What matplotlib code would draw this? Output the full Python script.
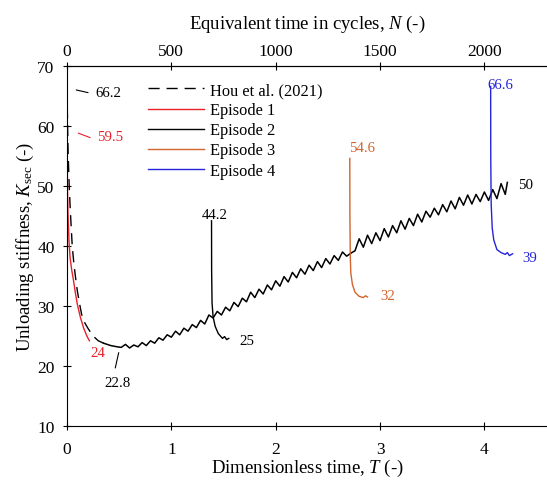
import matplotlib
matplotlib.use('Agg')
import matplotlib.pyplot as plt

plt.rcParams['font.family'] = ['Liberation Serif', 'DejaVu Serif']
plt.rcParams['mathtext.fontset'] = 'custom'
plt.rcParams['mathtext.rm'] = 'Liberation Serif'
plt.rcParams['mathtext.it'] = 'Liberation Serif:italic'

# Hou et al. (2021) measured curve
hou_T = [0, 0.005, 0.01, 0.02, 0.03, 0.04, 0.05, 0.065, 0.08, 0.1, 0.12, 0.14, 0.17, 0.2,
         0.25, 0.3, 0.35, 0.42, 0.48,
         0.52, 0.56, 0.60, 0.64, 0.68, 0.72, 0.76, 0.80, 0.84, 0.88, 0.92, 0.96, 1.00,
         1.04, 1.08, 1.12, 1.16, 1.20, 1.24, 1.28, 1.32, 1.36, 1.40, 1.44, 1.48, 1.52,
         1.56, 1.60, 1.64, 1.68, 1.72, 1.76, 1.80, 1.84, 1.88, 1.92, 1.96, 2.00, 2.04,
         2.08, 2.12, 2.16, 2.20, 2.24, 2.28, 2.32, 2.36, 2.40, 2.44, 2.48, 2.52, 2.56,
         2.60, 2.64, 2.68, 2.72, 2.76, 2.80, 2.84, 2.88, 2.92, 2.96, 3.00, 3.04, 3.08,
         3.12, 3.16, 3.20, 3.24, 3.28, 3.32, 3.36, 3.40, 3.44, 3.48, 3.52, 3.56, 3.60,
         3.64, 3.68, 3.72, 3.76, 3.80, 3.84, 3.88, 3.92, 3.96, 4.00, 4.04, 4.08, 4.12,
         4.16, 4.20, 4.22]
hou_K = [66.2, 60.5, 56.0, 50.5, 46.5, 43.2, 40.0, 37.2, 35.0, 32.4, 30.4, 28.6, 27.2, 26.3,
         25.0, 24.2, 23.8, 23.4, 23.2,
         23.1, 23.6, 23.0, 23.5, 23.2, 23.9, 23.4, 24.2, 23.8, 24.7, 24.3, 25.2, 24.8,
         25.8, 25.2, 26.3, 25.8, 26.9, 26.4, 27.6, 27.0, 28.5, 28.0, 29.1, 28.5, 29.8,
         29.2, 30.6, 29.9, 31.3, 30.7, 32.3, 31.4, 32.8, 32.0, 33.5, 32.7, 34.2, 33.3,
         34.9, 34.0, 35.6, 34.7, 36.2, 35.3, 36.8, 35.9, 37.4, 36.4, 37.9, 37.0, 38.4,
         37.6, 39.0, 38.3, 38.8, 39.2, 41.2, 39.8, 41.8, 40.4, 42.2, 40.9, 42.9, 41.5,
         43.4, 42.2, 44.2, 42.8, 44.6, 43.4, 45.3, 44.0, 45.8, 44.8, 46.3, 45.2, 46.9,
         45.7, 47.5, 46.2, 48.1, 46.8, 48.5, 47.0, 48.6, 47.4, 49.0, 47.6, 49.4, 47.9,
         50.4, 48.6, 50.6]
n_smooth = 17  # smooth decay part at the start, drawn with visible dashes

ep1_T = [0, 0.002, 0.005, 0.01, 0.02, 0.03, 0.045, 0.06, 0.08, 0.1, 0.13, 0.16, 0.19, 0.215]
ep1_K = [59.5, 54.0, 49.0, 45.0, 40.5, 38.0, 36.0, 34.5, 32.2, 30.2, 28.0, 26.3, 25.0, 24.2]

ep2_T = [1.385, 1.386, 1.39, 1.40, 1.42, 1.45, 1.47, 1.49, 1.51, 1.53, 1.55]
ep2_K = [44.2, 36.0, 30.5, 28.2, 26.6, 25.4, 25.0, 24.6, 24.9, 24.4, 24.6]

ep3_T = [2.71, 2.711, 2.715, 2.72, 2.735, 2.76, 2.80, 2.84, 2.86, 2.88]
ep3_K = [54.6, 45.0, 38.0, 35.5, 33.6, 32.3, 31.6, 31.4, 31.7, 31.5]

ep4_T = [4.06, 4.061, 4.065, 4.075, 4.09, 4.12, 4.16, 4.20, 4.22, 4.24, 4.27]
ep4_K = [66.6, 55.0, 47.0, 43.0, 41.0, 39.4, 38.9, 38.6, 38.9, 38.4, 38.7]

red = '#e8202a'
orange = '#d2642d'
blue = '#2424dc'

fig = plt.figure(figsize=(5.47, 4.81), dpi=100)
ax = fig.add_axes([0.1225, 0.1123, 0.8775, 0.7484])

# dense noisy measurement: dashes only visible on the smooth start
ax.plot(hou_T[:n_smooth], hou_K[:n_smooth], color='black', lw=1.0, ls=(0, (8, 5)),
        label='Hou et al. (2021)')
ax.plot(hou_T[n_smooth - 1:], hou_K[n_smooth - 1:], color='black', lw=1.1)
ax.plot(ep1_T, ep1_K, color=red, lw=1.0, label='Episode 1')
ax.plot(ep2_T, ep2_K, color='black', lw=1.0, label='Episode 2')
ax.plot(ep3_T, ep3_K, color=orange, lw=1.0, label='Episode 3')
ax.plot(ep4_T, ep4_K, color=blue, lw=1.0, label='Episode 4')

ax.set_xlim(0, 4.6)
ax.set_ylim(10, 70)
ax.set_xticks([0, 1, 2, 3, 4])
ax.set_yticks([10, 20, 30, 40, 50, 60, 70])
ax.spines['right'].set_visible(False)
ax.tick_params(direction='inout', length=6, width=0.8, labelsize=12.5)
ax.tick_params(axis='x', pad=8)
ax.tick_params(axis='y', pad=6)
ax.set_xlabel('Dimensionless time, $T$ (-)', fontsize=13.5, labelpad=0)
ax.set_ylabel('Unloading stiffness, $K_{\\rm sec}$ (-)', fontsize=13.5, labelpad=1)

top = ax.secondary_xaxis('top', functions=(lambda t: t * 500, lambda n: n / 500))
top.set_xticks([0, 500, 1000, 1500, 2000])
top.tick_params(direction='inout', length=6, width=0.8, labelsize=12.5, pad=2)
top.set_xlabel('Equivalent time in cycles, $N$ (-)', fontsize=13.5, labelpad=11)

ax.legend(loc='upper left', bbox_to_anchor=(0.169, 0.955), frameon=False, fontsize=11.8,
          handlelength=3.4, handletextpad=0.4, labelspacing=0.25, borderpad=0, borderaxespad=0)

fs = 10.7
ax.plot([0.09, 0.20], [66.0, 65.57], color='black', lw=0.8)
ax.text(0.40, 65.6, '66.2', fontsize=fs, ha='center', va='center')
ax.plot([0.11, 0.22], [58.8, 58.07], color=red, lw=0.8)
ax.text(0.415, 58.2, '59.5', fontsize=fs, ha='center', va='center', color=red)
ax.text(0.293, 22.2, '24', fontsize=fs, ha='center', va='center', color=red)
ax.plot([0.495, 0.463], [22.2, 19.7], color='black', lw=0.8)
ax.text(0.48, 17.3, '22.8', fontsize=fs, ha='center', va='center')
ax.text(1.42, 45.3, '44.2', fontsize=fs, ha='center', va='center')
ax.text(1.726, 24.2, '25', fontsize=fs, ha='center', va='center')
ax.text(2.83, 56.4, '54.6', fontsize=fs, ha='center', va='center', color=orange)
ax.text(3.07, 31.7, '32', fontsize=fs, ha='center', va='center', color=orange)
ax.text(4.155, 66.95, '66.6', fontsize=fs, ha='center', va='center', color=blue)
ax.text(4.39, 50.3, '50', fontsize=fs, ha='center', va='center')
ax.text(4.43, 38.1, '39', fontsize=fs, ha='center', va='center', color=blue)

fig.savefig('out.png', dpi=100)
